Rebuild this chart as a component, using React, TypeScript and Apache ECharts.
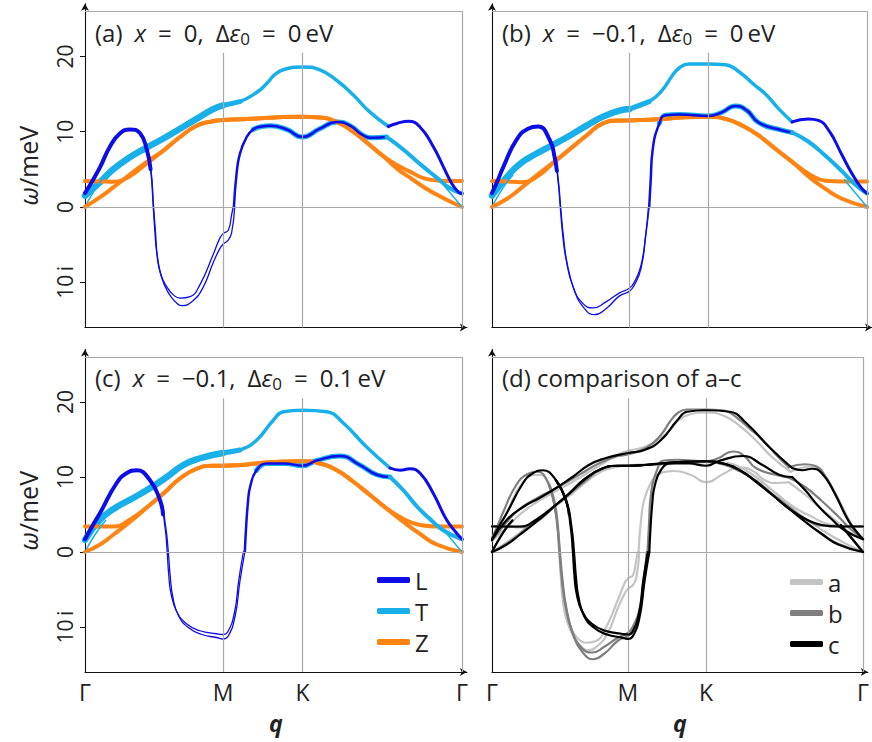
import React, { useEffect, useRef } from 'react';
import * as echarts from 'echarts';

const FONT = '"Open Sans", Lato, "DejaVu Sans", sans-serif';
const DB = '#0d0de6';
const LB = '#19b0ea';
const OR = '#ff8413';
const GRAYS = ['#c4c4c4', '#7f7f7f', '#000000'];
const FRAME = '#a9a9a9';

const Q_TICKS = [0, 0.366, 0.577, 1];
const Q_LABELS = ['Γ', 'M', 'K', 'Γ'];
const Y_TICKS = [-10, 0, 10, 20];

// ---------- panel (a): x = 0, Δε0 = 0 eV ----------
const aTop = [[0,1.5],[0.04,3.3],[0.075,5.0],[0.119,6.6],[0.164,7.9],[0.208,9.1],[0.252,10.4],[0.296,11.7],[0.34,13.0],[0.366,13.5],[0.411,14.0],[0.455,15.2],[0.482,16.4],[0.504,17.6],[0.53,18.3],[0.577,18.6],[0.623,18.2],[0.668,16.8],[0.711,14.9],[0.756,12.6],[0.805,10.7]];
const aTopR = [[0.805,10.7],[0.827,11.1],[0.858,11.4],[0.889,10.6],[0.924,8.0],[0.95,5.4],[0.972,3.2],[0.99,2.0],[1,1.8]];
const aSoftL = [[0,1.85],[0.02,3.5],[0.04,5.3],[0.066,8.0],[0.093,9.8],[0.119,10.3],[0.146,9.8],[0.164,7.6],[0.174,5.0]];
const aImagU = [[0.164,7.6],[0.174,5.0],[0.181,0],[0.185,-3],[0.19,-6],[0.2,-8.8],[0.217,-10.6],[0.235,-11.7],[0.252,-12.1],[0.279,-11.9],[0.305,-10.3],[0.34,-6.3],[0.358,-4.1],[0.367,-3.5],[0.38,-3.1],[0.389,-1.0],[0.393,0]];
const aImagL = [[0.164,7.6],[0.175,5.0],[0.182,0],[0.187,-3.3],[0.192,-6.5],[0.203,-9.3],[0.22,-11.3],[0.24,-12.6],[0.256,-13.1],[0.285,-12.5],[0.313,-10.7],[0.34,-7.4],[0.358,-5.5],[0.367,-4.9],[0.38,-4.4],[0.389,-3.4],[0.397,0]];
const aMid = [[0.395,0],[0.402,4.4],[0.411,7.1],[0.429,9.3],[0.446,10.3],[0.469,10.7],[0.491,10.8],[0.535,10.3],[0.577,9.3],[0.623,10.4],[0.668,11.3],[0.703,10.8],[0.738,9.5],[0.765,9.2],[0.8,9.3]];
const aMidR = [[0.8,9.3],[0.845,7.6],[0.889,5.7],[0.933,3.9],[0.968,2.5],[1,1.8]];
const aZflatL = [[0,3.45],[0.04,3.4],[0.075,3.35],[0.119,4.1],[0.164,5.8]];
const aZzeroL = [[0,0],[0.04,1.3],[0.075,2.6],[0.119,4.3],[0.164,6.0]];
const aZmid = [[0.208,7.5],[0.252,9.3],[0.296,10.8],[0.34,11.4],[0.366,11.55],[0.411,11.65],[0.455,11.75],[0.504,11.9],[0.577,12.0],[0.623,11.9],[0.668,11.3],[0.711,10.0],[0.756,8.2],[0.79,6.8]];
const aZflatR = [[0.83,5.5],[0.862,4.7],[0.9,3.8],[0.94,3.5],[1,3.45]];
const aZzeroR = [[0.83,5.0],[0.862,3.9],[0.9,2.6],[0.95,1.2],[1,0]];

// ---------- panel (b): x = −0.1, Δε0 = 0 eV ----------
const bTop = [[0,1.5],[0.04,4.0],[0.075,5.75],[0.119,7.1],[0.164,8.3],[0.208,9.5],[0.252,10.8],[0.296,12.0],[0.34,12.8],[0.366,13.0],[0.419,14.0],[0.455,15.6],[0.48,17.4],[0.5,18.5],[0.525,19.0],[0.577,19.0],[0.622,18.9],[0.66,17.9],[0.7,16.2],[0.729,15.0],[0.765,13.0],[0.8,11.3]];
const bTopR = [[0.8,11.3],[0.843,11.7],[0.87,11.5],[0.9,10.0],[0.932,7.0],[0.96,4.4],[0.985,2.5],[1,1.8]];
const bSoftL = [[0,1.85],[0.015,3.5],[0.03,5.3],[0.065,8.9],[0.096,10.4],[0.123,10.7],[0.154,8.9],[0.167,6.6],[0.173,4.8]];
const bImagU = [[0.154,8.9],[0.167,6.6],[0.176,3.5],[0.182,0],[0.188,-3.5],[0.198,-7.1],[0.216,-10.6],[0.242,-12.8],[0.269,-13.4],[0.304,-12.6],[0.34,-11.4],[0.366,-10.8],[0.379,-10.0],[0.397,-7.8],[0.41,-3.5],[0.417,0]];
const bImagL = [[0.154,8.9],[0.168,6.6],[0.177,3.5],[0.183,0],[0.19,-3.7],[0.2,-7.4],[0.219,-11.0],[0.245,-13.4],[0.273,-14.3],[0.304,-13.5],[0.34,-11.8],[0.366,-11.2],[0.379,-10.4],[0.397,-8.2],[0.41,-3.8],[0.419,0]];
const bMid = [[0.419,0],[0.423,3.5],[0.428,7.5],[0.446,11.1],[0.463,12.2],[0.5,12.3],[0.577,12.1],[0.61,12.5],[0.649,13.4],[0.68,12.8],[0.711,11.2],[0.772,10.2],[0.8,9.9]];
const bMidR = [[0.8,9.9],[0.843,8.7],[0.889,6.8],[0.932,4.8],[0.968,3.0],[1,1.8]];
const bZflatL = [[0,3.45],[0.04,3.4],[0.075,3.3],[0.119,4.0],[0.171,6.2]];
const bZzeroL = [[0,0],[0.04,1.1],[0.075,2.4],[0.119,4.2],[0.171,6.2]];
const bZmid = [[0.208,7.7],[0.252,9.5],[0.296,11.1],[0.34,11.5],[0.366,11.5],[0.411,11.6],[0.455,11.7],[0.504,11.9],[0.577,12.0],[0.623,11.7],[0.668,10.8],[0.711,9.5],[0.756,7.7],[0.8,6.0]];
const bZflatR = [[0.845,4.4],[0.889,3.5],[0.933,3.4],[1,3.4]];
const bZzeroR = [[0.845,4.0],[0.889,2.4],[0.933,1.1],[1,0]];

// ---------- panel (c): x = −0.1, Δε0 = 0.1 eV ----------
const cTop = [[0,1.6],[0.04,4.3],[0.084,6.0],[0.128,7.2],[0.172,8.5],[0.217,10.0],[0.261,11.6],[0.305,12.5],[0.366,13.2],[0.411,13.6],[0.455,14.9],[0.5,17.6],[0.526,18.7],[0.577,18.9],[0.641,18.7],[0.685,17.2],[0.747,14.0],[0.809,11.2]];
const cTopR = [[0.809,11.2],[0.836,10.9],[0.862,11.1],[0.889,10.5],[0.924,7.8],[0.959,4.3],[0.986,2.5],[1,1.7]];
const cSoftL = [[0,1.7],[0.02,3.5],[0.04,5.2],[0.084,9.2],[0.11,10.5],[0.137,10.9],[0.172,9.6],[0.199,6.9],[0.207,5.0]];
const cImagU = [[0.172,9.6],[0.199,6.9],[0.212,3.4],[0.218,0],[0.222,-3.0],[0.228,-5.5],[0.243,-7.9],[0.27,-9.6],[0.305,-10.5],[0.349,-10.9],[0.366,-11.0],[0.378,-10.7],[0.396,-8.2],[0.408,-3.7],[0.42,0]];
const cImagL = [[0.172,9.6],[0.2,6.9],[0.214,3.4],[0.221,0],[0.226,-3.2],[0.233,-6.0],[0.248,-8.5],[0.275,-10.1],[0.31,-11.0],[0.349,-11.4],[0.366,-11.6],[0.38,-11.2],[0.398,-8.6],[0.411,-3.9],[0.424,0]];
const cMid = [[0.424,0],[0.427,3.0],[0.432,6.5],[0.438,8.7],[0.455,10.9],[0.482,11.8],[0.53,11.8],[0.577,11.5],[0.615,12.2],[0.676,12.8],[0.729,11.6],[0.774,10.3],[0.809,10.0]];
const cMidR = [[0.809,10.0],[0.845,8.2],[0.88,6.1],[0.915,4.4],[0.95,2.9],[1,1.7]];
const cZflatL = [[0,3.4],[0.04,3.4],[0.075,3.4],[0.119,4.3],[0.175,6.4]];
const cZzeroL = [[0,0],[0.04,1.0],[0.075,2.3],[0.119,4.0],[0.175,6.4]];
const cZmid = [[0.208,7.8],[0.252,9.8],[0.296,11.1],[0.34,11.5],[0.366,11.5],[0.411,11.6],[0.455,11.8],[0.504,12.0],[0.577,12.1],[0.623,11.8],[0.668,10.9],[0.711,9.4],[0.756,7.6],[0.8,5.8]];
const cZflatR = [[0.845,4.4],[0.889,3.6],[0.933,3.4],[1,3.4]];
const cZzeroR = [[0.845,4.0],[0.889,2.4],[0.933,1.0],[1,0]];

// short branches near Γ shared by all panels
const thinL = [[0,0],[0.02,1.8],[0.04,3.3],[0.055,4.2]];
const thinR = [[0.94,3.6],[0.97,1.8],[1,0]];

type Pt = number[];
interface Panel { top: Pt[]; topR: Pt[]; softL: Pt[]; imagU: Pt[]; imagL: Pt[]; mid: Pt[]; midR: Pt[]; z1: Pt[]; z2: Pt[]; }

const PANELS: Panel[] = [
  { top: aTop, topR: aTopR, softL: aSoftL, imagU: aImagU, imagL: aImagL, mid: aMid, midR: aMidR,
    z1: [...aZflatL, ...aZmid, ...aZflatR], z2: [...aZzeroL, ...aZmid, ...aZzeroR] },
  { top: bTop, topR: bTopR, softL: bSoftL, imagU: bImagU, imagL: bImagL, mid: bMid, midR: bMidR,
    z1: [...bZflatL, ...bZmid, ...bZflatR], z2: [...bZzeroL, ...bZmid, ...bZzeroR] },
  { top: cTop, topR: cTopR, softL: cSoftL, imagU: cImagU, imagL: cImagL, mid: cMid, midR: cMidR,
    z1: [...cZflatL, ...cZmid, ...cZflatR], z2: [...cZzeroL, ...cZmid, ...cZzeroR] },
];

function line(name: string, data: Pt[], g: number, color: string, width: number, z = 3) {
  return {
    type: 'line', name, data, xAxisIndex: g, yAxisIndex: g, showSymbol: false, symbol: 'none',
    smooth: 0.5, silent: true, z,
    lineStyle: { color, width, cap: 'round', join: 'round' }, itemStyle: { color },
  };
}

function colouredPanel(p: Panel, g: number, legend: boolean) {
  const nL = legend ? 'L' : `L${g}`;
  const nT = legend ? 'T' : `T${g}`;
  const nZ = legend ? 'Z' : `Z${g}`;
  return [
    line(nL, p.softL, g, DB, 4, 4),
    line(nT, p.top.filter(([q]) => q <= 0.3661), g, LB, 6.5, 3),
    line(nZ, p.z1, g, OR, 4, 3),
    line(nT, p.top.filter(([q]) => q >= 0.366 && q <= 0.42), g, LB, 5, 3),
    line(nT, p.top.filter(([q]) => q >= 0.366), g, LB, 3.5, 3),
    line(nT, thinL, g, LB, 1.5, 3),
    line(nT, p.mid.filter(([q]) => q >= 0.44), g, LB, 5, 3),
    line(nL, p.mid, g, DB, 2.5, 4),
    line(nZ, p.z2, g, OR, 4, 3),
    line(nT, p.midR, g, LB, 4, 4),
    line(nT, thinR, g, LB, 1.5, 4),
    line(nL, p.topR, g, DB, 3, 4),
    line(nL, p.imagU, g, DB, 1.3, 4),
    line(nL, p.imagL, g, DB, 1.3, 4),
  ];
}

function grayPanel(p: Panel, g: number, name: string, color: string, z: number) {
  return [p.top, p.topR, p.softL, p.imagU, p.imagL, p.mid, p.midR, p.z1, p.z2, thinL, thinR]
    .map((d) => line(name, d, g, color, 2.2, z));
}

function frameSeries(g: number) {
  const seg = (a: Pt, b: Pt) => [{ coord: a }, { coord: b }];
  return {
    type: 'line', data: [[0, 0]], xAxisIndex: g, yAxisIndex: g, symbol: 'none', silent: true, z: 1,
    lineStyle: { opacity: 0 },
    markLine: {
      silent: true, symbol: 'none', label: { show: false }, animation: false,
      lineStyle: { color: FRAME, width: 1.2, type: 'solid' },
      emphasis: { disabled: true },
      data: [
        seg([0, 26], [1, 26]),
        seg([1, -16], [1, 26]),
        seg([0, 0], [1, 0]),
        seg([Q_TICKS[1], -16], [Q_TICKS[1], 20.5]),
        seg([Q_TICKS[2], -16], [Q_TICKS[2], 20.5]),
      ],
    },
  };
}

const GRIDS = [
  { left: 85, top: 3.7, width: 381.9, height: 323.8 },
  { left: 492, top: 3.7, width: 381.9, height: 323.8 },
  { left: 85, top: 349.5, width: 381.9, height: 322.5 },
  { left: 492, top: 349.5, width: 381.9, height: 322.5 },
];

const SP = '\u2002';
const EQ = `${SP}=${SP}`;
const TITLES = [
  `(a)${SP}{i|x}${EQ}0,${SP}Δ{i|ε}{s|0}${EQ}0\u2009eV`,
  `(b)${SP}{i|x}${EQ}−0.1,${SP}Δ{i|ε}{s|0}${EQ}0\u2009eV`,
  `(c)${SP}{i|x}${EQ}−0.1,${SP}Δ{i|ε}{s|0}${EQ}0.1\u2009eV`,
  '(d) comparison of a–c',
];

export default function App() {
  const ref = useRef<HTMLDivElement>(null);
  useEffect(() => {
    if (!ref.current) return;
    const chart = echarts.init(ref.current, null, { renderer: 'svg' });
    const axisLineStyle = { color: '#111', width: 1.1 };
    const xAxis = GRIDS.map((_, g) => ({
      type: 'value', gridIndex: g, min: 0, max: 1.013,
      axisLine: { show: true, onZero: false, lineStyle: axisLineStyle, symbol: ['none', 'arrow'], symbolSize: [6, 7] },
      axisTick: { show: false },
      splitLine: { show: false },
      axisLabel: g >= 2 ? {
        show: true, customValues: Q_TICKS, margin: 8, fontSize: 23, color: '#222', fontFamily: FONT,
        formatter: (v: number) => {
          let best = 0;
          Q_TICKS.forEach((t, i) => { if (Math.abs(t - v) < Math.abs(Q_TICKS[best] - v)) best = i; });
          return Q_LABELS[best];
        },
      } : { show: false },
      name: g >= 2 ? 'q' : '',
      nameLocation: 'middle', nameGap: 39,
      nameTextStyle: { fontSize: 23, fontWeight: 'bold', fontStyle: 'italic', color: '#222', fontFamily: FONT },
    }));
    const yAxis = GRIDS.map((_, g) => ({
      type: 'value', gridIndex: g, min: -16, max: 27,
      axisLine: { show: true, onZero: false, lineStyle: axisLineStyle, symbol: ['none', 'arrow'], symbolSize: [6, 7] },
      axisTick: g % 2 === 0 ? { show: true, customValues: Y_TICKS, length: 5, lineStyle: { color: '#111' } } : { show: false },
      splitLine: { show: false },
      axisLabel: g % 2 === 0 ? {
        show: true, customValues: Y_TICKS, rotate: 90, margin: 10, fontSize: 21, color: '#222', fontFamily: FONT,
        formatter: (v: number) => (v < 0 ? `${-v}\u2009i` : `${v}`),
      } : { show: false },
      name: g % 2 === 0 ? '{i|ω}/meV' : '',
      nameLocation: 'middle', nameGap: 45,
      nameTextStyle: {
        fontSize: 25, color: '#222', fontFamily: FONT,
        rich: { i: { fontStyle: 'italic', fontSize: 25, color: '#222', fontFamily: FONT } },
      },
    }));

    const series: any[] = [];
    GRIDS.forEach((_, g) => series.push(frameSeries(g)));
    PANELS.forEach((p, i) => series.push(...colouredPanel(p, i, i === 2)));
    PANELS.forEach((p, i) => series.push(...grayPanel(p, 3, 'abc'[i], GRAYS[i], 3 + i)));

    const titleStyle = {
      fontSize: 24, color: '#222', fontWeight: 'normal', fontFamily: FONT, lineHeight: 30,
      rich: {
        i: { fontStyle: 'italic', fontSize: 24, color: '#222', fontFamily: FONT, lineHeight: 30 },
        s: { fontSize: 17, color: '#222', fontFamily: FONT, lineHeight: 17, verticalAlign: 'bottom' },
      },
    };
    const titlePos = [[95, 17], [502, 17], [95, 362], [502, 362]];

    chart.setOption({
      animation: false,
      backgroundColor: '#fff',
      title: TITLES.map((t, i) => ({ text: t, left: titlePos[i][0], top: titlePos[i][1], padding: 0, textStyle: titleStyle })),
      grid: GRIDS,
      xAxis,
      yAxis,
      legend: [
        {
          data: ['L', 'T', 'Z'], orient: 'vertical', left: 372, top: 563, itemWidth: 33, itemHeight: 6, itemGap: 7,
          icon: 'roundRect', selectedMode: false, textStyle: { fontSize: 24, color: '#222', fontFamily: FONT },
        },
        {
          data: ['a', 'b', 'c'], orient: 'vertical', left: 785, top: 565, itemWidth: 33, itemHeight: 6, itemGap: 7,
          icon: 'roundRect', selectedMode: false, textStyle: { fontSize: 24, color: '#222', fontFamily: FONT },
        },
      ],
      series,
    });
    return () => chart.dispose();
  }, []);
  return (
    <div
      ref={ref}
      style={{ position: 'fixed', left: 0, top: 0, width: 872, height: 742, background: '#fff' }}
    />
  );
}
